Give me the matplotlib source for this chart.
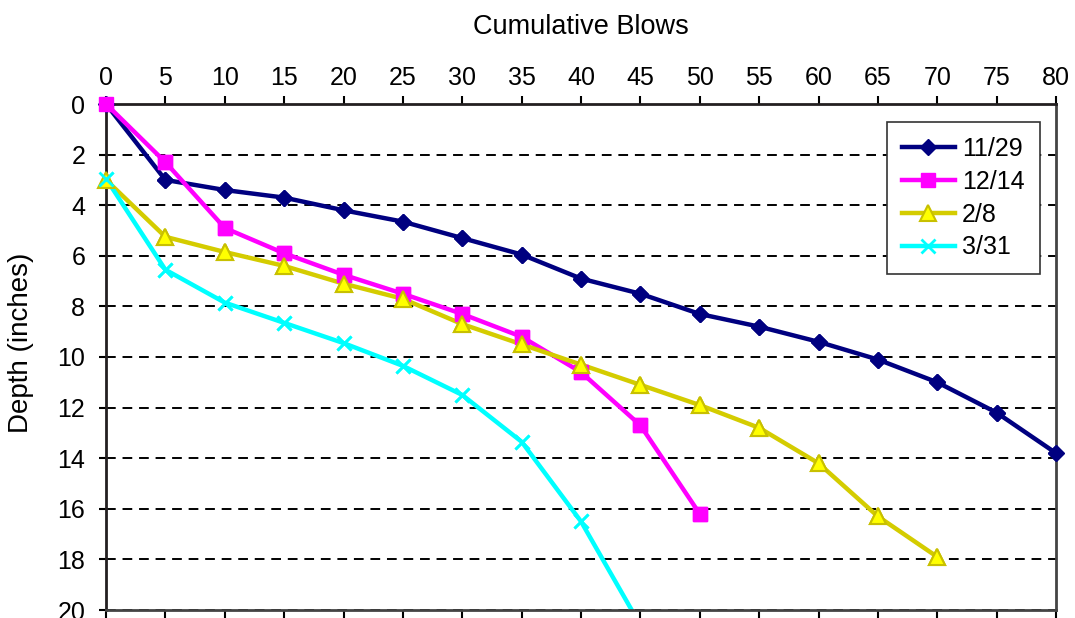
import numpy as np
import matplotlib
matplotlib.use("Agg")
import matplotlib.pyplot as plt

plt.rcParams['font.family'] = ['Liberation Sans', 'DejaVu Sans']

# cumulative blows vs depth (inches)
blows_1129 = [0, 5, 10, 15, 20, 25, 30, 35, 40, 45, 50, 55, 60, 65, 70, 75, 80]
depth_1129 = [0, 3.0, 3.4, 3.7, 4.2, 4.65, 5.3, 5.95, 6.9, 7.5, 8.3, 8.8, 9.4, 10.1, 11.0, 12.2, 13.8]

blows_1214 = [0, 5, 10, 15, 20, 25, 30, 35, 40, 45, 50]
depth_1214 = [0, 2.3, 4.9, 5.9, 6.75, 7.5, 8.3, 9.2, 10.6, 12.7, 16.2]

blows_28 = [0, 5, 10, 15, 20, 25, 30, 35, 40, 45, 50, 55, 60, 65, 70]
depth_28 = [3.0, 5.25, 5.85, 6.4, 7.1, 7.7, 8.7, 9.5, 10.3, 11.1, 11.9, 12.8, 14.2, 16.3, 17.9]

blows_331 = [0, 5, 10, 15, 20, 25, 30, 35, 40, 45]
depth_331 = [2.95, 6.55, 7.85, 8.65, 9.45, 10.35, 11.5, 13.35, 16.5, 20.6]

x_ticks = list(range(0, 81, 5))
y_ticks = list(range(0, 21, 2))

fig = plt.figure(figsize=(10.75, 6.18), dpi=100)
ax = fig.add_axes([106/1075, 1 - 610/618, 950/1075, 506/618])

ax.set_xlim(0, 80)
ax.set_ylim(20, 0)

ax.grid(axis='y', color='black', linestyle=(0, (5, 3.5)), linewidth=1.4)
ax.set_axisbelow(True)

series = [
    (blows_1129, depth_1129, '11/29', dict(color='#000080', marker='D', markersize=8,
                                            markerfacecolor='#000080', markeredgecolor='#000080')),
    (blows_1214, depth_1214, '12/14', dict(color='#FF00FF', marker='s', markersize=10,
                                            markerfacecolor='#FF00FF', markeredgecolor='#FF00FF')),
    (blows_28, depth_28, '2/8', dict(color='#D4CC00', marker='^', markersize=11,
                                      markerfacecolor='#FFFF00', markeredgecolor='#C8C000',
                                      markeredgewidth=1.5)),
    (blows_331, depth_331, '3/31', dict(color='#00FFFF', marker='x', markersize=10,
                                         markeredgewidth=2)),
]

for xs, ys, lab, st in series:
    xs = np.array(xs)
    ys = np.array(ys)
    ax.plot(xs, ys, linewidth=3.2, label=lab, **st)
    # redraw markers unclipped so the ones sitting on the frame show fully
    inside = ys <= 20
    ax.plot(xs[inside], ys[inside], linestyle='none', clip_on=False, zorder=3, **st)

ax.set_xticks(x_ticks)
ax.set_yticks(y_ticks)
ax.xaxis.tick_top()
ax.xaxis.set_label_position('top')
ax.tick_params(axis='x', which='both', top=True, bottom=True, labeltop=True, labelbottom=False,
               direction='out', length=6, width=1.5, labelsize=18, pad=4)
ax.tick_params(axis='y', direction='out', length=5, width=1.5, labelsize=18, pad=10)

ax.set_xlabel('Cumulative Blows', fontsize=19.5, labelpad=23)
ax.set_ylabel('Depth (inches)', fontsize=20)
ax.yaxis.set_label_coords(-0.076, 0.528)

for side in ['left', 'top']:
    ax.spines[side].set_color('#231f20')
    ax.spines[side].set_linewidth(2)
for side in ['right', 'bottom']:
    ax.spines[side].set_color('#444444')
    ax.spines[side].set_linewidth(2)

leg = ax.legend(loc='upper right', bbox_to_anchor=(0.983, 0.964), borderaxespad=0,
                fontsize=18, fancybox=False, framealpha=1, edgecolor='#333333',
                handlelength=2.1, handletextpad=0.3, labelspacing=0.35, borderpad=0.6)
leg.get_frame().set_linewidth(1.2)

fig.savefig('out.png', dpi=100)
